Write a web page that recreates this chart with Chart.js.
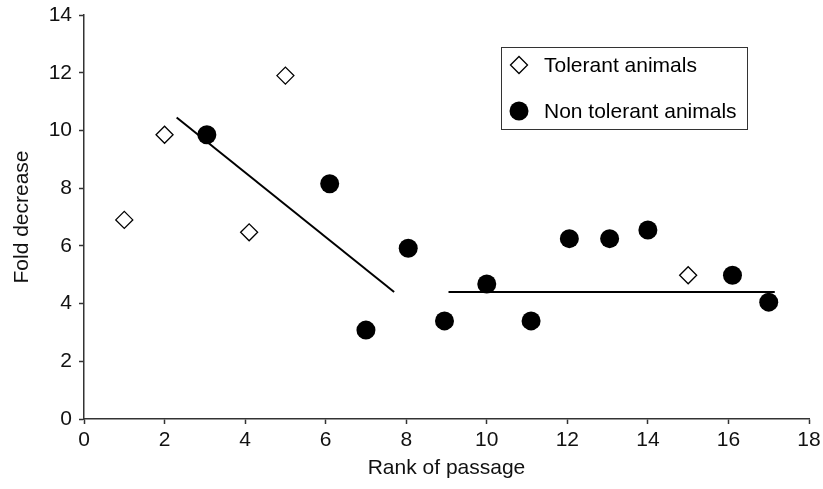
<!DOCTYPE html>
<html>
<head>
<meta charset="utf-8">
<script src="https://cdn.jsdelivr.net/npm/chart.js@4/dist/chart.umd.min.js"></script>
<style>
  html, body { margin: 0; padding: 0; background: #fff; }
  #wrap { width: 823px; height: 489px; }
</style>
</head>
<body>
<div id="wrap"><canvas id="fold-chart"></canvas></div>
<script>
// values
const tolerantRank = [1, 2, 4.1, 5, 15];
const tolerantFold = [6.9, 9.85, 6.47, 11.9, 4.98];

const nonTolerantRank = [3.05, 6.1, 7, 8.05, 8.95, 10, 11.1, 12.05, 13.05, 14, 16.1, 17];
const nonTolerantFold = [9.85, 8.15, 3.08, 5.92, 3.4, 4.68, 3.4, 6.25, 6.25, 6.55, 4.98, 4.05];

// trend segments (end points)
const trendEarlyRank = [2.3, 7.7];
const trendEarlyFold = [10.45, 4.4];
const trendLateRank = [9.05, 17.15];
const trendLateFold = [4.4, 4.4];

const xTicks = [0, 2, 4, 6, 8, 10, 12, 14, 16, 18];
const yTicks = [0, 2, 4, 6, 8, 10, 12, 14];

const toPoints = (xs, ys) => xs.map((x, i) => ({ x, y: ys[i] }));

const FONT = "'Liberation Sans', Arial, sans-serif";
const FS = 21;
const AXIS = "#333";

// legend box drawn inside the plot, like the original figure
const boxLegend = {
    id: "boxLegend",
    afterDraw(chart) {
        const c = chart.ctx;
        const ds = chart.data.datasets;
        c.save();
        c.strokeStyle = AXIS;
        c.lineWidth = 1;
        c.strokeRect(501.5, 47.5, 246, 82);
        c.font = FS + "px " + FONT;
        c.textBaseline = "middle";
        const rows = [
            { ds: ds[0], y: 65 },
            { ds: ds[1], y: 111 },
        ];
        rows.forEach((r) => {
            c.lineWidth = r.ds.borderWidth;
            c.strokeStyle = r.ds.borderColor;
            c.fillStyle = r.ds.backgroundColor;
            Chart.helpers.drawPoint(c, {
                pointStyle: r.ds.pointStyle,
                radius: r.ds.pointRadius,
                rotation: 0,
                borderWidth: r.ds.borderWidth,
            }, 519, r.y);
            c.fillStyle = "#000";
            c.fillText(r.ds.label, 544, r.y + 1);
        });
        c.restore();
    },
};

new Chart(document.getElementById("fold-chart"), {
    type: "scatter",
    data: {
        datasets: [
            {
                label: "Tolerant animals",
                data: toPoints(tolerantRank, tolerantFold),
                pointStyle: "rectRot",
                pointRadius: 8.5,
                backgroundColor: "#fff",
                borderColor: "#000",
                borderWidth: 1.3,
            },
            {
                label: "Non tolerant animals",
                data: toPoints(nonTolerantRank, nonTolerantFold),
                pointStyle: "circle",
                pointRadius: 9.5,
                backgroundColor: "#000",
                borderColor: "#000",
                borderWidth: 0,
            },
            {
                label: "trend early",
                type: "line",
                data: toPoints(trendEarlyRank, trendEarlyFold),
                borderColor: "#000",
                borderWidth: 2,
                pointRadius: 0,
                fill: false,
            },
            {
                label: "trend late",
                type: "line",
                data: toPoints(trendLateRank, trendLateFold),
                borderColor: "#000",
                borderWidth: 2,
                pointRadius: 0,
                fill: false,
            },
        ],
    },
    options: {
        responsive: true,
        maintainAspectRatio: false,
        animation: false,
        layout: {
            padding: { top: 15, right: 14, bottom: 5, left: 6 },
        },
        plugins: {
            legend: { display: false },
            tooltip: { enabled: false },
        },
        scales: {
            x: {
                type: "linear",
                min: 0,
                max: 18,
                afterBuildTicks: (s) => { s.ticks = xTicks.map((v) => ({ value: v })); },
                afterFit: (s) => {
                    s.height = 489 - 5 - 419;
                    s.paddingLeft = 0;
                    s.paddingRight = 0;
                },
                border: { color: AXIS, width: 1.5 },
                grid: { drawOnChartArea: false, tickLength: 5, color: AXIS, tickWidth: 1.5 },
                ticks: { color: "#111", font: { family: FONT, size: FS }, padding: 4, maxRotation: 0 },
                title: {
                    display: true,
                    text: "Rank of passage",
                    color: "#111",
                    font: { family: FONT, size: FS },
                    padding: { top: 4, bottom: 3 },
                },
            },
            y: {
                type: "linear",
                min: 0,
                max: 14,
                afterBuildTicks: (s) => { s.ticks = yTicks.map((v) => ({ value: v })); },
                afterFit: (s) => {
                    s.width = 84 - 6;
                    s.paddingTop = 0;
                    s.paddingBottom = 0;
                },
                border: { color: AXIS, width: 1.5 },
                grid: { drawOnChartArea: false, tickLength: 5, color: AXIS, tickWidth: 1.5 },
                ticks: { color: "#111", font: { family: FONT, size: FS }, padding: 7 },
                title: {
                    display: true,
                    text: "Fold decrease",
                    color: "#111",
                    font: { family: FONT, size: FS },
                    padding: { top: 4, bottom: 4 },
                },
            },
        },
    },
    plugins: [boxLegend],
});
</script>
</body>
</html>
